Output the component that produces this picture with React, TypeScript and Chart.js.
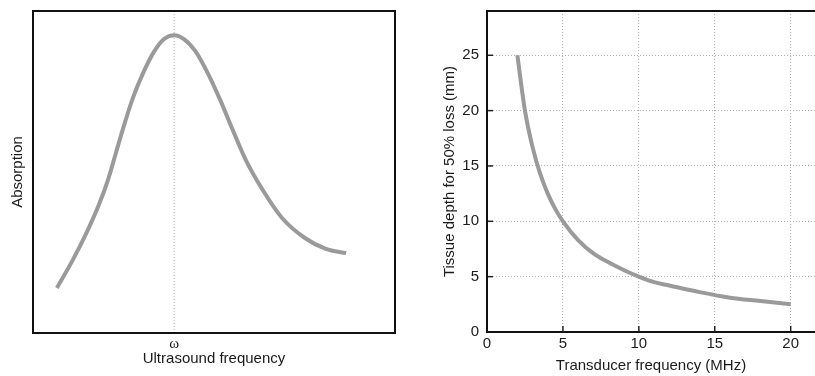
import React, { useEffect, useRef } from "react";
import { Chart, registerables } from "chart.js";

Chart.register(...registerables);

// ---- Left panel: absorption vs ultrasound frequency (arbitrary units 0-100) ----
const absorptionFreq = [6.6, 11.0, 14.9, 18.2, 20.7, 22.9, 25.1, 27.6, 30.4, 33.4, 36.2, 39.0, 41.7, 44.8, 48.1, 51.7, 55.2, 58.8, 63.3, 68.8, 75.1, 80.9, 86.5];
const absorptionValues = [14.0, 22.7, 31.4, 39.8, 47.5, 55.9, 64.3, 73.0, 80.7, 87.3, 91.3, 92.5, 91.3, 87.6, 81.1, 72.4, 63.0, 53.7, 44.7, 35.7, 29.5, 26.1, 24.8];
const omegaPosition = [39];
const omegaLabel = ["ω"];

// ---- Right panel: tissue depth for 50% loss vs transducer frequency ----
const transducerFreq = [2, 2.5, 3, 3.5, 4, 4.5, 5, 6, 7, 8, 9, 10, 11, 12, 14, 16, 18, 20];
const tissueDepth = [25, 20, 16.7, 14.3, 12.5, 11.1, 10, 8.3, 7.1, 6.3, 5.6, 5, 4.5, 4.2, 3.6, 3.1, 2.8, 2.5];
const freqTicks = [0, 5, 10, 15, 20];
const depthTicks = [0, 5, 10, 15, 20, 25];

const SANS = "'Liberation Sans', Arial, Helvetica, sans-serif";
const SERIF = "'Liberation Serif', 'DejaVu Serif', serif";
const CURVE = "#9a9a9a";
const GRID = "#b0b0b0";
const TEXT = "#1a1a1a";
const FS = 15;

const noPadX = (h: number) => (s: any) => {
  s.height = h;
  s.paddingLeft = 0;
  s.paddingRight = 0;
};
const noPadY = (w: number) => (s: any) => {
  s.width = w;
  s.paddingTop = 0;
  s.paddingBottom = 0;
};

const boxPlugin = {
  id: "box",
  beforeDatasetsDraw(chart: any) {
    const { ctx, chartArea: a, scales } = chart;
    const px = scales.x.getPixelForValue(omegaPosition[0]);
    ctx.save();
    ctx.strokeStyle = GRID;
    ctx.lineWidth = 1;
    ctx.setLineDash([1, 2]);
    ctx.beginPath();
    ctx.moveTo(px, a.top);
    ctx.lineTo(px, a.bottom);
    ctx.stroke();
    ctx.restore();
  },
  afterDraw(chart: any) {
    const { ctx, chartArea: a } = chart;
    ctx.save();
    ctx.strokeStyle = "#111";
    ctx.lineWidth = 2;
    ctx.strokeRect(a.left, a.top, a.right - a.left, a.bottom - a.top);
    ctx.restore();
  },
};

const axesPlugin = {
  id: "axesFrame",
  afterDraw(chart: any) {
    const { ctx, chartArea: a, scales } = chart;
    ctx.save();
    ctx.strokeStyle = "#222";
    ctx.lineWidth = 1.5;
    const len = 6;
    scales.x.ticks.forEach((t: any) => {
      const px = scales.x.getPixelForValue(t.value);
      ctx.beginPath();
      ctx.moveTo(px, a.bottom);
      ctx.lineTo(px, a.bottom - len);
      ctx.stroke();
    });
    scales.y.ticks.forEach((t: any) => {
      const py = scales.y.getPixelForValue(t.value);
      ctx.beginPath();
      ctx.moveTo(a.left, py);
      ctx.lineTo(a.left + len, py);
      ctx.stroke();
    });
    ctx.strokeStyle = "#111";
    ctx.lineWidth = 2;
    ctx.beginPath();
    ctx.moveTo(a.right + 2, a.top);
    ctx.lineTo(a.left, a.top);
    ctx.lineTo(a.left, a.bottom);
    ctx.lineTo(a.right + 2, a.bottom);
    ctx.stroke();
    ctx.restore();
  },
};

export default function App() {
  const leftRef = useRef<HTMLCanvasElement | null>(null);
  const rightRef = useRef<HTMLCanvasElement | null>(null);

  useEffect(() => {
    const left = new Chart(leftRef.current as HTMLCanvasElement, {
      type: "line",
      data: {
        datasets: [
          {
            data: absorptionFreq.map((x, i) => ({ x, y: absorptionValues[i] })),
            borderColor: CURVE,
            borderWidth: 4,
            pointRadius: 0,
            fill: false,
            cubicInterpolationMode: "monotone",
          },
        ],
      },
      options: {
        responsive: false,
        animation: false,
        devicePixelRatio: 1,
        layout: { padding: { top: 11, right: 10, left: 0, bottom: 0 } },
        plugins: { legend: { display: false }, tooltip: { enabled: false } },
        scales: {
          x: {
            type: "linear",
            min: 0,
            max: 100,
            afterFit: noPadX(43),
            afterBuildTicks: (s: any) => { s.ticks = omegaPosition.map((v) => ({ value: v })); },
            ticks: {
              callback: (_v: any, i: number) => omegaLabel[i],
              font: { family: SERIF, size: 15 },
              color: TEXT,
              padding: 2,
              maxRotation: 0,
              minRotation: 0,
            },
            grid: { display: false, drawTicks: false },
            border: { display: false },
            title: {
              display: true,
              text: "Ultrasound frequency",
              font: { family: SANS, size: FS },
              color: TEXT,
              padding: { top: 0, bottom: 8 },
            },
          },
          y: {
            type: "linear",
            min: 0,
            max: 100,
            afterFit: noPadY(33),
            ticks: { display: false },
            grid: { display: false, drawTicks: false },
            border: { display: false },
            title: {
              display: true,
              text: "Absorption",
              font: { family: SANS, size: FS },
              color: TEXT,
              padding: { top: 9, bottom: 0 },
            },
          },
        },
      },
      plugins: [boxPlugin],
    } as any);

    const right = new Chart(rightRef.current as HTMLCanvasElement, {
      type: "line",
      data: {
        datasets: [
          {
            data: transducerFreq.map((x, i) => ({ x, y: tissueDepth[i] })),
            borderColor: CURVE,
            borderWidth: 4,
            pointRadius: 0,
            fill: false,
            cubicInterpolationMode: "monotone",
          },
        ],
      },
      options: {
        responsive: false,
        animation: false,
        devicePixelRatio: 1,
        layout: { padding: { top: 11, right: 0, left: 0, bottom: 0 } },
        plugins: { legend: { display: false }, tooltip: { enabled: false } },
        scales: {
          x: {
            type: "linear",
            min: 0,
            max: 21.6,
            afterFit: noPadX(44),
            afterBuildTicks: (s: any) => { s.ticks = freqTicks.map((v) => ({ value: v })); },
            ticks: {
              font: { family: SANS, size: FS },
              color: TEXT,
              padding: 3,
              maxRotation: 0,
              minRotation: 0,
            },
            grid: { color: GRID, lineWidth: 1, drawTicks: false },
            border: { display: false, dash: [1, 2] },
            title: {
              display: true,
              text: "Transducer frequency (MHz)",
              font: { family: SANS, size: FS },
              color: TEXT,
              padding: { top: 0, bottom: 1 },
            },
          },
          y: {
            type: "linear",
            min: 0,
            max: 29,
            afterFit: noPadY(67),
            afterBuildTicks: (s: any) => { s.ticks = depthTicks.map((v) => ({ value: v })); },
            ticks: {
              font: { family: SANS, size: FS },
              color: TEXT,
              padding: 8,
            },
            grid: { color: GRID, lineWidth: 1, drawTicks: false },
            border: { display: false, dash: [1, 2] },
            title: {
              display: true,
              text: "Tissue depth for 50% loss (mm)",
              font: { family: SANS, size: FS },
              color: TEXT,
              padding: { top: 21, bottom: 0 },
            },
          },
        },
      },
      plugins: [axesPlugin],
    } as any);

    return () => {
      left.destroy();
      right.destroy();
    };
  }, []);

  return (
    <div
      style={{
        position: "fixed",
        left: 0,
        top: 0,
        width: 815,
        height: 376,
        overflow: "hidden",
        background: "#fff",
      }}
    >
      <canvas ref={leftRef} width={405} height={376} style={{ position: "absolute", left: 0, top: 0 }} />
      <canvas ref={rightRef} width={395} height={376} style={{ position: "absolute", left: 420, top: 0 }} />
    </div>
  );
}
